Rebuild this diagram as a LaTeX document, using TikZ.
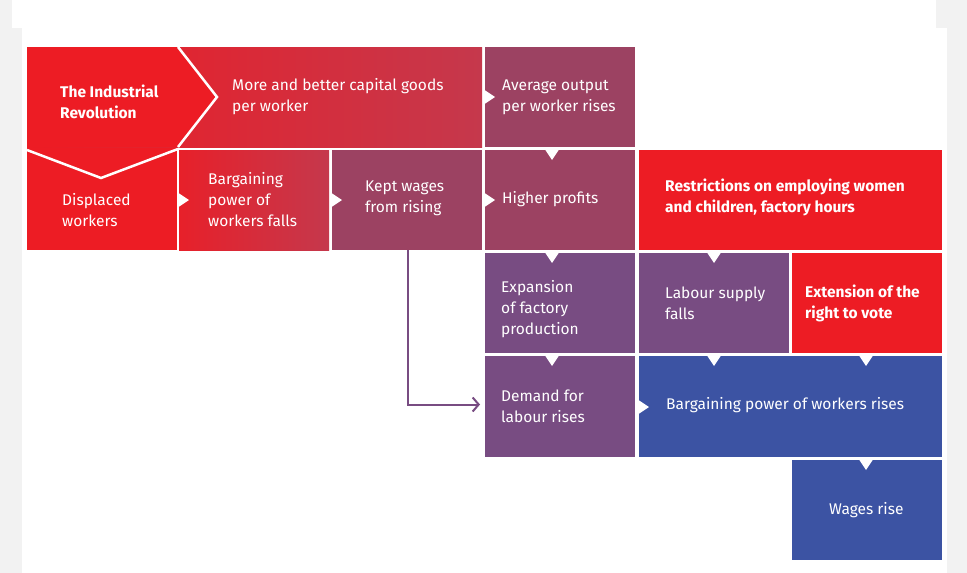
\documentclass[tikz,border=0pt]{standalone}
\usepackage{fontspec}
\setmainfont{Fira Sans}
\usetikzlibrary{calc,arrows.meta}
\definecolor{cred}{HTML}{ED1C24}
\definecolor{ccrim}{HTML}{C5384C}
\definecolor{cmaroon}{HTML}{9C4262}
\definecolor{cpurp}{HTML}{784C82}
\definecolor{cblue}{HTML}{3C53A3}
\definecolor{cgray}{HTML}{F2F2F2}
\begin{document}
\begin{tikzpicture}[x=1pt,y=-1pt,
  bx/.style={draw=none,inner sep=0,outer sep=0,anchor=north west},
  tx/.style={anchor=west,align=left,inner sep=0,text=white,font=\fontsize{15.5}{21}\selectfont},
  tb/.style={tx,font=\fontsize{15.5}{21}\selectfont\bfseries},
  tri/.style={fill=white,draw=none}]
\fill[cgray] (0,0) rectangle (967,573);
\fill[white] (12,0) rectangle (936,28);
\fill[white] (22,28) rectangle (947,573);
\useasboundingbox (0,0) rectangle (967,573);
\newcommand\bx[6]{\node[bx,minimum width=#4-#2,minimum height=#5-#3,fill=#6] (#1) at (#2,#3) {};}
% row 1
\node[bx,minimum width=455,minimum height=100,left color=cred,right color=ccrim] (top) at (27,47) {};
\fill[cred] (27,47) -- (178,47) -- (217,97) -- (178,147) -- (27,147) -- cycle;
\bx{avg}{485}{47}{635}{147}{cmaroon}
% row 2
\bx{disp}{27}{150}{177}{250}{cred}
\node[bx,minimum width=150,minimum height=100,left color=cred!85!ccrim,right color=ccrim] (barg) at (179,150) {};
\bx{kept}{332}{150}{482}{250}{cmaroon}
\bx{prof}{485}{150}{635}{250}{cmaroon}
\bx{restr}{639}{150}{942}{250}{cred}
% row 3
\bx{exp}{485}{253}{635}{353}{cpurp}
\bx{lab}{639}{253}{789}{353}{cpurp}
\bx{ext}{792}{253}{942}{353}{cred}
% row 4
\bx{dem}{485}{356}{635}{457}{cpurp}
\bx{bpr}{639}{356}{942}{457}{cblue}
% row 5
\bx{wag}{792}{460}{942}{560}{cblue}
% chevrons
\fill[cred] (27,148) rectangle (177,150);
\draw[white,line width=2.5pt] (178,47) -- (217,97) -- (178,147);
\draw[white,line width=2.5pt] (27,150) -- (101,178) -- (178,149);
% triangles
\foreach \x/\y in {179/200,332/200,485/200,485/97,639/407}
  \fill[tri] (\x-0.5,\y-7) -- (\x+10,\y) -- (\x-0.5,\y+7) -- cycle;
\foreach \x/\y in {552/150,552/253,714/253,552/356,714/356,866/356,866/460}
  \fill[tri] (\x-7,\y-0.5) -- (\x,\y+10) -- (\x+7,\y-0.5) -- cycle;
% arrow
\coordinate (a1) at ($(kept.south west)+(76,0)$);
\coordinate (a2) at ($(dem.west)+(-5,-2)$);
\draw[cpurp,line width=2pt,-{Straight Barb[length=6pt,width=14pt,line width=2pt]}] (a1) |- (a2);
% texts
\node[tb] (tir) at (60,102) {The Industrial\\Revolution};
\node[tx] (tmore) at (232,97) {More and better capital goods\\per worker};
\node[tx] (tavg) at (502,97) {Average output\\per worker rises};
\node[tx] (tdisp) at (62,210) {Displaced\\workers};
\node[tx] (tbarg) at (208,200) {Bargaining\\power of\\workers falls};
\node[tx] (tkept) at (365,198) {Kept wages\\from rising};
\node[tx] (tprof) at (502,199) {Higher profits};
\node[tb] (trestr) at (665,197) {Restrictions on employing women\\and children, factory hours};
\node[tx] (texp) at (501,309) {Expansion\\of factory\\production};
\node[tx] (tlab) at (665,303) {Labour supply\\falls};
\node[tb] (text) at (805,303) {Extension of the\\right to vote};
\node[tx] (tdem) at (501,406) {Demand for\\labour rises};
\node[tx] (tbpr) at (666,405) {Bargaining power of workers rises};
\node[tx] (twag) at (829,510) {Wages rise};
\end{tikzpicture}
\end{document}
